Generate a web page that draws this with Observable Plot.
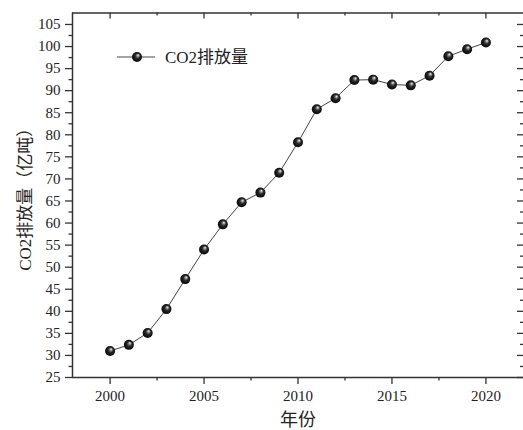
<!DOCTYPE html>
<html><head><meta charset="utf-8">
<script src="https://cdn.jsdelivr.net/npm/d3@7"></script>
<script src="https://cdn.jsdelivr.net/npm/@observablehq/plot@0.6"></script>
<style>body{margin:0;background:#fff} svg{display:block}</style>
</head><body><div id="chart"></div>
<script>
const years = [2000,2001,2002,2003,2004,2005,2006,2007,2008,2009,2010,2011,2012,2013,2014,2015,2016,2017,2018,2019,2020];
const co2 = [31.0,32.4,35.1,40.5,47.3,54.0,59.7,64.7,66.9,71.4,78.3,85.8,88.3,92.4,92.5,91.4,91.2,93.4,97.8,99.4,100.9];
const seriesName = "CO2排放量";
const xLabel = "年份";
const yLabel = "CO2排放量（亿吨）";
const xMajor = [2000,2005,2010,2015,2020];
const xMinor = [2002.5,2007.5,2012.5,2017.5];
const yMajor = [25,30,35,40,45,50,55,60,65,70,75,80,85,90,95,100,105];
const yMinor = [27.5,32.5,37.5,42.5,47.5,52.5,57.5,62.5,67.5,72.5,77.5,82.5,87.5,92.5,97.5,102.5];

const data = years.map((y,i)=>({year:y, value:co2[i]}));
const W = 523, H = 430, mL = 72, mR = 0, mT = 12.5, mB = 53;
const pw = W - mL - mR, ph = H - mT - mB;
const axisColor = "#333";
const fontNum = "'Liberation Serif','Noto Sans CJK SC',serif";

const chart = Plot.plot({
  width: W, height: H,
  marginLeft: mL, marginRight: mR, marginTop: mT, marginBottom: mB,
  style: {fontFamily: fontNum, color: "#222", background: "#fff"},
  x: {domain: [1998, 2022], axis: null},
  y: {domain: [25, 107.6], axis: null},
  marks: [
    Plot.ruleY([107.6], {stroke: axisColor, strokeWidth: 1.5}),
    Plot.ruleY([25], {stroke: axisColor, strokeWidth: 1.5}),
    Plot.ruleX([1998], {stroke: axisColor, strokeWidth: 1.5}),
    Plot.axisX({anchor: "bottom", ticks: xMajor, tickSize: 7, tickPadding: 6, tickFormat: d => String(d), fontSize: 15, label: null, stroke: axisColor, strokeWidth: 1.3}),
    Plot.axisX({anchor: "bottom", ticks: xMinor, tickSize: 3.5, tickFormat: () => "", label: null, stroke: axisColor, strokeWidth: 1.3}),
    Plot.axisY({anchor: "left", ticks: yMajor, tickSize: 7, tickPadding: 5, tickFormat: d => String(d), fontSize: 15, label: null, stroke: axisColor, strokeWidth: 1.3}),
    Plot.axisY({anchor: "left", ticks: yMinor, tickSize: 3.5, tickFormat: () => "", label: null, stroke: axisColor, strokeWidth: 1.3}),
    Plot.tickY(yMajor, {y: d => d, insetLeft: pw - 6, stroke: axisColor, strokeWidth: 1.3}),
    Plot.tickY(yMinor, {y: d => d, insetLeft: pw - 3, stroke: axisColor, strokeWidth: 1.3}),
    Plot.tickX(xMajor, {x: d => d, insetBottom: ph - 6, stroke: axisColor, strokeWidth: 1.3}),
    Plot.tickX(xMinor, {x: d => d, insetBottom: ph - 3, stroke: axisColor, strokeWidth: 1.3}),
    Plot.text([xLabel], {frameAnchor: "bottom", dy: 43, lineAnchor: "middle", textAnchor: "middle", text: d => d, fontSize: 18, fill: "#222", fontFamily: fontNum}),
    Plot.text([yLabel], {frameAnchor: "left", dx: -47, rotate: -90, lineAnchor: "middle", textAnchor: "middle", text: d => d, fontSize: 17, fill: "#222", fontFamily: fontNum}),
    Plot.line(data, {x: "year", y: "value", stroke: "#444", strokeWidth: 1}),
    Plot.dot(data, {x: "year", y: "value", r: 5, fill: "#000", stroke: "none"})
  ]
});

const svg = d3.select(chart);
const defs = svg.insert("defs", ":first-child");
const g = defs.append("radialGradient").attr("id", "ball")
  .attr("cx", "50%").attr("cy", "50%").attr("r", "55%")
  .attr("fx", "62%").attr("fy", "30%");
g.append("stop").attr("offset", "0%").attr("stop-color", "#ffffff");
g.append("stop").attr("offset", "18%").attr("stop-color", "#9a9a9a");
g.append("stop").attr("offset", "45%").attr("stop-color", "#2a2a2a");
g.append("stop").attr("offset", "100%").attr("stop-color", "#000000");
svg.selectAll("circle").attr("fill", "url(#ball)");

const lg = svg.append("g").attr("class", "legend");
lg.append("line").attr("x1", 117).attr("x2", 155).attr("y1", 57).attr("y2", 57).attr("stroke", "#444").attr("stroke-width", 1);
lg.append("circle").attr("cx", 137).attr("cy", 57).attr("r", 5).attr("fill", "url(#ball)");
lg.append("text").attr("x", 165).attr("y", 57).attr("dy", "0.35em").attr("font-size", 17)
  .attr("text-anchor", "start").attr("font-family", fontNum).attr("fill", "#222").text(seriesName);

document.getElementById("chart").appendChild(chart);
</script>
</body></html>
